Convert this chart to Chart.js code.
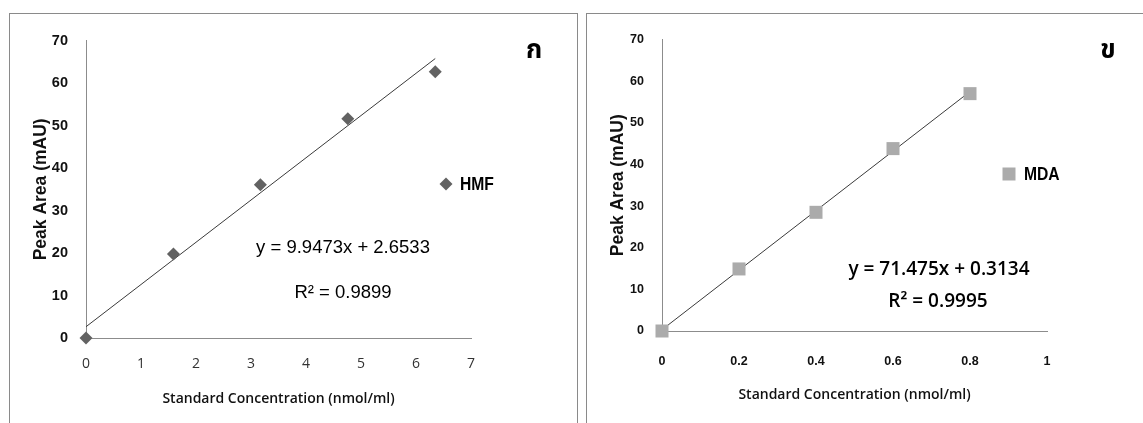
<!DOCTYPE html>
<html><head><meta charset="utf-8">
<script src="https://cdn.jsdelivr.net/npm/chart.js@4.4.1/dist/chart.umd.min.js"></script>
<style>
html,body{margin:0;padding:0;background:#fff;width:1143px;height:423px;overflow:hidden;}
.box{position:absolute;border:1.5px solid #8a8a8a;box-sizing:border-box;}
canvas{position:absolute;}
</style></head><body>
<div class="box" style="left:9px;top:13px;width:569px;height:430px;"></div>
<div class="box" style="left:586px;top:13px;width:570px;height:430px;"></div>
<canvas id="c1" width="567" height="409" style="left:10px;top:14px;"></canvas>
<canvas id="c2" width="556" height="409" style="left:587px;top:14px;"></canvas>
<script>
// ---- data ----
const hmfConc = [0, 1.59, 3.17, 4.76, 6.35];
const hmfArea = [0, 19.8, 36.1, 51.6, 62.7];
const hmfTrendX = [0, 6.35];
const hmfTrendY = [2.65, 65.8];
const mdaConc = [0, 0.2, 0.4, 0.6, 0.8];
const mdaArea = [0, 14.9, 28.5, 43.8, 57.0];
const mdaTrendX = [0, 0.8];
const mdaTrendY = [0.31, 57.5];
const hmfXTicks = [0, 1, 2, 3, 4, 5, 6, 7];
const mdaXTicks = [0, 0.2, 0.4, 0.6, 0.8, 1];
const yTicks = [0, 10, 20, 30, 40, 50, 60, 70];
const hmfLabel = 'HMF', mdaLabel = 'MDA';
const hmfEq = 'y = 9.9473x + 2.6533', hmfR2 = 'R² = 0.9899';
const mdaEq = 'y = 71.475x + 0.3134', mdaR2 = 'R² = 0.9995';
const panelA = 'ก', panelB = 'ข';
const xTitle = 'Standard Concentration (nmol/ml)';
const yTitle = 'Peak Area (mAU)';

Chart.defaults.animation = false;
Chart.defaults.devicePixelRatio = 1;
const NARROW = '"Liberation Sans Narrow","Arial Narrow","Liberation Sans",Arial,sans-serif';
const THAI = '"Noto Sans Thai","Noto Serif Thai","Loma","Garuda","Norasi","Tlwg Typo","DejaVu Sans",sans-serif';

function pts(xs, ys){ return xs.map((x,i)=>({x:x, y:ys[i]})); }

function overlay(cfg){
  return {
    id:'overlay',
    afterDraw(chart){
      const ctx = chart.ctx;
      ctx.save();
      ctx.fillStyle = '#000';
      ctx.textAlign = 'center'; ctx.textBaseline = 'middle';
      ctx.font = 'bold 26px ' + THAI;
      ctx.fillText(cfg.panel, cfg.panelX, cfg.panelY);
      ctx.fillStyle = cfg.markColor;
      ctx.beginPath();
      if (cfg.diamond){
        const r = 6.5, x = cfg.legX, y = cfg.legY;
        ctx.moveTo(x, y - r); ctx.lineTo(x + r, y); ctx.lineTo(x, y + r); ctx.lineTo(x - r, y); ctx.closePath();
      } else {
        ctx.rect(cfg.legX - 6.5, cfg.legY - 6.5, 13, 13);
      }
      ctx.fill();
      ctx.fillStyle = '#000';
      ctx.textAlign = 'left';
      ctx.font = 'bold 18px ' + NARROW;
      // narrow the label horizontally to mimic the condensed face
      ctx.save();
      ctx.translate(cfg.legTextX, cfg.legY + 1);
      ctx.scale(0.87, 1);
      ctx.fillText(cfg.label, 0, 0);
      ctx.restore();
      ctx.textAlign = 'center';
      ctx.font = cfg.eqFont;
      ctx.fillText(cfg.eq, cfg.eqX, cfg.eqY);
      ctx.fillText(cfg.r2, cfg.r2X, cfg.r2Y);
      ctx.restore();
    }
  };
}

function makeChart(id, o){
  return new Chart(document.getElementById(id), {
    type: 'scatter',
    data: { datasets: [
      { label: o.label, data: o.data, pointStyle: o.pointStyle, pointRadius: o.pointRadius,
        backgroundColor: o.markColor, borderColor: o.markColor, borderWidth: 0, order: 1, clip: false },
      { type: 'line', label: 'trend', data: o.trend, borderColor: '#3a3a3a', borderWidth: 1,
        pointRadius: 0, fill: false, order: 2, clip: false }
    ]},
    options: {
      responsive: false, maintainAspectRatio: false,
      layout: { padding: { left: 0, top: o.padTop, right: o.padRight, bottom: 0 } },
      plugins: { legend: { display: false }, tooltip: { enabled: false } },
      scales: {
        x: {
          type: 'linear', min: o.xTicks[0], max: o.xTicks[o.xTicks.length-1],
          afterBuildTicks: s => { s.ticks = o.xTicks.map(v => ({ value: v })); },
          afterFit: s => { s.height = o.xAxisH; },
          grid: { display: false, drawTicks: false },
          border: { display: true, color: '#8c8c8c', width: 1 },
          ticks: { padding: o.xTickPad, color: o.xTickColor, font: o.xTickFont, maxRotation: 0, autoSkip: false,
                   callback: v => String(v) },
          title: { display: true, text: xTitle, color: '#111',
                   font: { family: '"Open Sans",sans-serif', size: 14, weight: '600' },
                   padding: { top: 0, bottom: o.xTitlePad } }
        },
        y: {
          type: 'linear', min: 0, max: 70,
          afterBuildTicks: s => { s.ticks = yTicks.map(v => ({ value: v })); },
          afterFit: s => { s.width = o.yAxisW; },
          grid: { display: false, drawTicks: false },
          border: { display: true, color: '#8c8c8c', width: 1 },
          ticks: { padding: 18, color: '#111', font: { family: NARROW, size: o.yTickSize, weight: 'bold' } },
          title: { display: true, text: yTitle, color: '#111',
                   font: { family: '"Liberation Sans",Arial,sans-serif', size: 17.5, weight: 'bold' },
                   padding: { top: o.yTitlePad, bottom: 0 } }
        }
      }
    },
    plugins: [overlay(o.ov)]
  });
}

makeChart('c1', {
  label: hmfLabel, data: pts(hmfConc, hmfArea), trend: pts(hmfTrendX, hmfTrendY),
  pointStyle: 'rectRot', pointRadius: 6.5, markColor: '#626262',
  xTicks: hmfXTicks, padTop: 23, padRight: 106, xAxisH: 85, yAxisW: 76,
  xTickPad: 18, xTickColor: '#333', xTickFont: { family: '"Open Sans",sans-serif', size: 14, weight: '400' },
  xTitlePad: 16, yTitlePad: 21, yTickSize: 14.5,
  ov: { panel: panelA, panelX: 524, panelY: 39, diamond: true, markColor: '#626262',
        legX: 436, legY: 170, legTextX: 450, label: hmfLabel,
        eq: hmfEq, r2: hmfR2, eqX: 333, eqY: 234, r2X: 333, r2Y: 279,
        eqFont: '18.5px "Liberation Sans",Arial,sans-serif' }
});

makeChart('c2', {
  label: mdaLabel, data: pts(mdaConc, mdaArea), trend: pts(mdaTrendX, mdaTrendY),
  pointStyle: 'rect', pointRadius: 9.2, markColor: '#ababab',
  xTicks: mdaXTicks, padTop: 22, padRight: 96, xAxisH: 92, yAxisW: 75,
  xTickPad: 23, xTickColor: '#111', xTickFont: { family: NARROW, size: 12.5, weight: 'bold' },
  xTitlePad: 20, yTitlePad: 21, yTickSize: 12.5,
  ov: { panel: panelB, panelX: 521, panelY: 39, diamond: false, markColor: '#ababab',
        legX: 422, legY: 160, legTextX: 437, label: mdaLabel,
        eq: mdaEq, r2: mdaR2, eqX: 352, eqY: 256, r2X: 351, r2Y: 288,
        eqFont: '600 19px "Open Sans",sans-serif' }
});
</script>
</body></html>
